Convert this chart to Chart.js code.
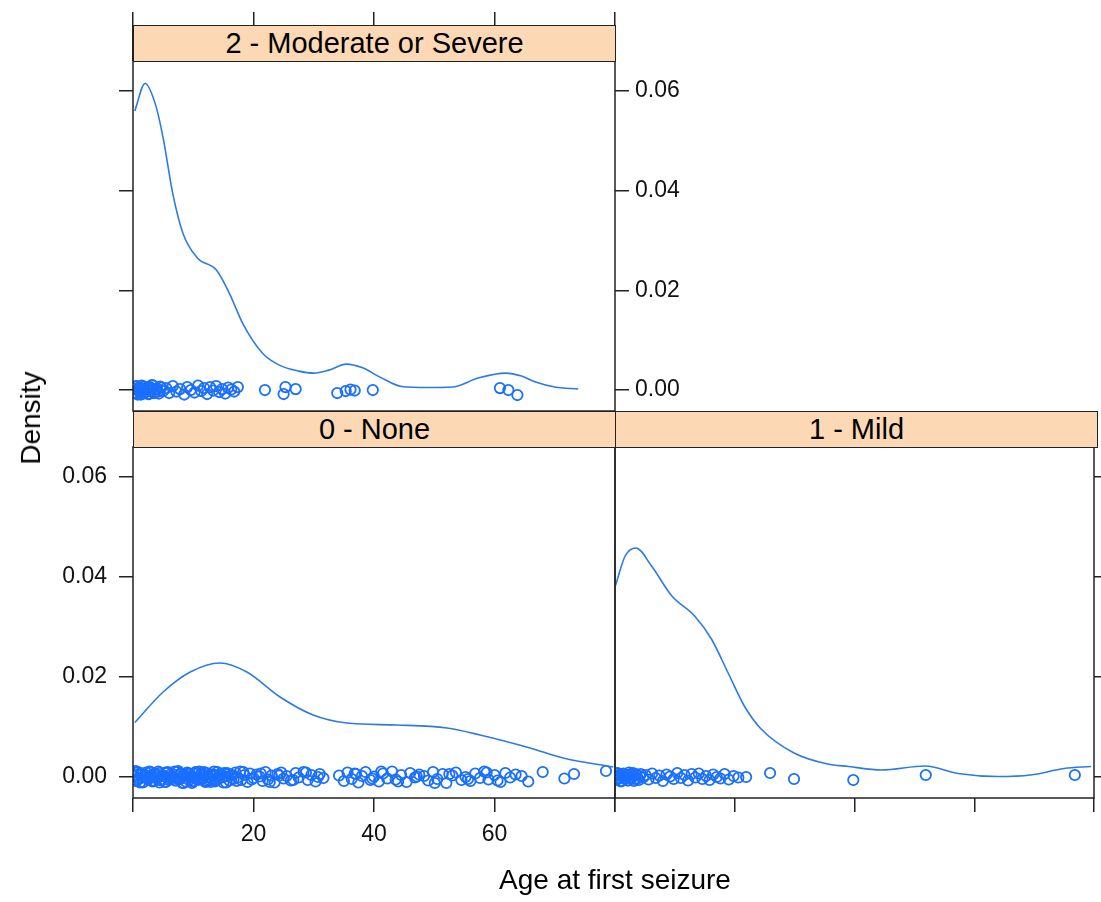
<!DOCTYPE html>
<html>
<head>
<meta charset="utf-8">
<script src="https://cdn.jsdelivr.net/npm/chart.js@4.4.1/dist/chart.umd.min.js"></script>
<style>
  html, body { margin: 0; padding: 0; background: #fff; }
  #page { position: relative; width: 1101px; height: 902px; overflow: hidden;
          font-family: "Liberation Sans", Arial, Helvetica, sans-serif; color: #000; }
  #page canvas { position: absolute; left: 0; top: 0; }
  .strip { position: absolute; box-sizing: border-box; height: 37px; background: #fdd8b5;
           border: 1.5px solid #222; text-align: center; font-size: 29px; line-height: 34px; z-index: 5; }
  .axis-title { position: absolute; font-size: 28px; white-space: nowrap; z-index: 5; }
  #ylab { left: 31px; top: 418px; transform: translate(-50%, -50%) rotate(-90deg); }
  #xlab { left: 615px; top: 880px; transform: translate(-50%, -50%); }
</style>
</head>
<body>
<div id="page">
  <canvas id="cSevere" width="1101" height="902"></canvas>
  <canvas id="cNone" width="1101" height="902"></canvas>
  <canvas id="cMild" width="1101" height="902"></canvas>
  <div class="strip" style="left:133px; top:25px; width:483px;">2 - Moderate or Severe</div>
  <div class="strip" style="left:133px; top:411px; width:483px;">0 - None</div>
  <div class="strip" style="left:615px; top:411px; width:483px;">1 - Mild</div>
  <div class="axis-title" id="ylab">Density</div>
  <div class="axis-title" id="xlab">Age at first seizure</div>
</div>
<script>
// axis ticks
const ageTicks = [0, 20, 40, 60, 80];
const ageTickLabels = ['', '20', '40', '60', ''];
const densityTicks = [0, 0.02, 0.04, 0.06];
const densityTickLabels = ['0.00', '0.02', '0.04', '0.06'];

// 2 - Moderate or Severe: density curve + rug
const severeCurveAge = [0.3, 2.0, 3.7, 5.0, 6.6, 8.3, 10.6, 13.9, 16.0, 18.2, 21.5, 24.3, 27.5, 30.0, 32.5, 35.4, 38.0, 41.0, 44.6, 49.0, 53.0, 57.3, 61.8, 64.5, 66.8, 70.0, 73.9];
const severeCurveDensity = [0.0560, 0.0615, 0.0574, 0.0506, 0.0394, 0.0314, 0.0266, 0.0240, 0.0194, 0.0134, 0.0074, 0.0050, 0.0038, 0.0034, 0.0040, 0.0052, 0.0045, 0.0026, 0.0007, 0.0005, 0.0006, 0.0024, 0.0034, 0.0028, 0.0016, 0.0006, 0.0002];
const severeAge = [0.2, 0.4, 0.6, 0.9, 1.1, 1.3, 1.6, 1.8, 2, 2.3, 2.5, 2.8, 3, 3.3, 3.6, 4, 4.3, 4.7, 5,
  5.5, 6, 6.6, 7.2, 7.8, 8.5, 9, 9.6, 10.2, 10.8, 11.3, 11.8, 12.3, 12.8, 13.3, 13.8, 14.3, 14.8, 15.3, 15.8,
  16.3, 16.8, 17.4, 21.9, 25, 25.3, 27, 33.9, 35.3, 36.1, 36.8, 39.8, 60.9, 62.3, 63.8,
  0.3, 0.5, 0.75, 1.0, 1.2, 1.45, 1.7, 1.9, 2.15, 2.4, 2.65, 2.9, 3.15, 3.45, 3.8, 4.15, 4.5];
const severeJitter = [0.0003, -0.0006, 0.0008, -0.0002, 0.0005, -0.0009, 0.0001, 0.0007, -0.0004, 0.0002,
  -0.0008, 0.0006, -0.0001, 0.0009, -0.0005, 0.0003, -0.0007, 0.0005, -0.0002, 0.0004,
  -0.0006, 0.0008, -0.0003, 0.0002, -0.0009, 0.0006, 0.0000, -0.0005, 0.0009, -0.0002,
  0.0004, -0.0008, 0.0006, -0.0001, 0.0008, -0.0004, 0.0002, -0.0007, 0.0005, 0.0001,
  -0.0003, 0.0006, 0.0000, -0.0008, 0.0006, 0.0002, -0.0006, -0.0002, 0.0001, -0.0001,
  0.0000, 0.0004, 0.0000, -0.0010,
  -0.0005, 0.0007, -0.0009, 0.0004, -0.0002, 0.0009, -0.0007, 0.0002, -0.0004, 0.0006,
  -0.0008, 0.0003, 0.0010, -0.0006, 0.0001, -0.0003, 0.0007];

// 0 - None
const noneCurveAge = [0.3, 5.0, 9.5, 14.4, 18.9, 24.4, 29.9, 35.5, 43.8, 52.1, 57.6, 65.9, 71.4, 79.7];
const noneCurveDensity = [0.0109, 0.0170, 0.0210, 0.0228, 0.0210, 0.0160, 0.0124, 0.0108, 0.0104, 0.0098, 0.0084, 0.0058, 0.0038, 0.0020];
const noneAge = [0.2, 0.5, 0.8, 1, 1.3, 1.6, 2, 2.2, 2.5, 3, 3.3, 3.6, 4, 4.2, 4.5, 5, 5.3, 5.6, 6, 6.2,
  6.5, 7, 7.3, 7.7, 8, 8.2, 8.5, 9, 9.3, 9.6, 10, 10.2, 10.5, 11, 11.3, 11.6, 12, 12.2, 12.5, 13,
  13.3, 13.6, 14, 14.2, 14.5, 15, 15.3, 15.6, 16, 16.3, 16.7, 17, 17.4, 17.8, 18, 18.5, 19, 19.4, 20, 20.5,
  21, 21.5, 22, 22.4, 23, 23.5, 24, 24.6, 25, 25.5, 26.2, 27, 27.5, 28.3, 29, 29.6, 30.3, 31, 31.6,
  34.2, 35, 35.6, 36.3, 37, 37.4, 38, 38.6, 39.4, 40, 40.8, 41.5, 42.2, 43, 43.6, 44.5, 45.4, 46, 46.8, 47.5,
  48.3, 49, 49.8, 50.5, 51.4, 52, 53, 53.6, 54.5, 55.2, 56, 56.8, 57.6, 58.3, 59, 60, 61, 61.8, 62.6, 63.5,
  64.5, 65.6, 68, 71.6, 73.2, 78.5,
  0.35, 0.65, 1.15, 1.45, 1.8, 2.35, 2.75, 3.15, 3.45, 3.8, 4.35, 4.75, 5.15, 5.45, 5.8, 6.35, 6.75, 7.15, 7.5, 7.85,
  8.35, 8.75, 9.15, 9.45, 9.8, 10.35, 10.75, 11.15, 11.45, 11.8, 12.35, 12.75, 13.15, 13.45, 13.8, 14.35, 14.75, 15.15, 15.45, 15.8,
  16.5, 17.2, 18.3, 19.7, 21.2, 22.7, 24.3, 26.6, 28.7, 30.7, 36.8, 39.7, 41.2, 44, 47.1, 50.1, 52.5, 55.6, 58.7, 60.5,
  0.1, 0.45, 0.9, 1.25, 1.7, 2.1, 2.6, 2.9, 3.55, 3.95, 4.4, 4.9, 5.4, 5.9, 6.4, 6.9, 7.4, 7.9, 8.4, 8.9,
  9.4, 9.9, 10.4, 10.9, 11.4, 11.9, 12.4, 12.9, 13.4, 13.9, 14.4, 14.9, 15.4, 16.1, 16.9, 17.6, 18.7, 20.2, 21.7, 23.2];
const noneJitter = [0.0004, -0.0008, 0.0010, -0.0002, 0.0006, -0.0011, 0.0001, 0.0009, -0.0005, 0.0003,
  -0.0009, 0.0007, -0.0001, 0.0011, -0.0006, 0.0002, -0.0010, 0.0008, -0.0003, 0.0005,
  0.0000, -0.0007, 0.0010, -0.0004, 0.0006, -0.0012, 0.0003, 0.0009, -0.0006, 0.0001,
  -0.0008, 0.0007, -0.0002, 0.0011, -0.0005, 0.0004, -0.0010, 0.0008, -0.0001, 0.0005,
  0.0002, -0.0009, 0.0010, -0.0003, 0.0006, -0.0011, 0.0001, 0.0008, -0.0007, 0.0003,
  -0.0004, 0.0009, -0.0001, 0.0011, -0.0006, 0.0004, -0.0010, 0.0007, -0.0002, 0.0005,
  0.0001, -0.0008, 0.0010, -0.0005, 0.0003, -0.0011, 0.0006, 0.0009, -0.0003, 0.0002,
  -0.0007, 0.0008, -0.0001, 0.0010, -0.0006, 0.0004, -0.0009, 0.0006, -0.0002,
  0.0003, -0.0008, 0.0009, -0.0004, 0.0006, -0.0011, 0.0002, 0.0010, -0.0006, 0.0001,
  -0.0009, 0.0007, -0.0003, 0.0011, -0.0005, 0.0004, -0.0010, 0.0008, -0.0001, 0.0005,
  0.0002, -0.0007, 0.0010, -0.0004, 0.0006, -0.0012, 0.0003, 0.0009, -0.0006, 0.0000,
  -0.0008, 0.0007, -0.0002, 0.0011, -0.0005, 0.0004,
  -0.0010, 0.0008, -0.0001, 0.0005, 0.0002, -0.0009, 0.0010, -0.0003, 0.0006, 0.0012,
  -0.0006, 0.0009, -0.0011, 0.0004, 0.0001, -0.0003, 0.0011, -0.0008, 0.0006, -0.0001,
  0.0008, -0.0005, 0.0002, -0.0010, 0.0010, -0.0002, 0.0005, -0.0007, 0.0012, -0.0004,
  0.0003, -0.0009, 0.0007, 0.0000, -0.0012, 0.0009, -0.0006, 0.0004, -0.0002, 0.0010,
  -0.0009, 0.0005, -0.0004, 0.0011, -0.0007, 0.0002, -0.0001, 0.0008, -0.0011, 0.0006,
  0.0004, -0.0008, 0.0010, -0.0005, 0.0007, -0.0010, 0.0003, -0.0006, 0.0009, 0.0000,
  0.0007, -0.0003, 0.0011, -0.0009, 0.0001, -0.0012, 0.0006, -0.0004, 0.0009, -0.0007,
  0.0002, 0.0012, -0.0005, 0.0008, -0.0010, 0.0004, -0.0002, 0.0010, -0.0008, 0.0005,
  -0.0011, 0.0003, 0.0009, -0.0006, 0.0000, 0.0011, -0.0004, 0.0007, -0.0012, 0.0002,
  0.0006, -0.0009, 0.0010, -0.0003, 0.0008, -0.0007, 0.0001, -0.0010, 0.0005, -0.0005];

// 1 - Mild
const mildCurveAge = [0.05, 1.7, 3.5, 6.1, 9.5, 13.3, 16.1, 18.9, 21.6, 24.4, 29.9, 35.5, 39.0, 44.5, 51.8, 57.3, 63.9, 69.4, 75.0, 79.5];
const mildCurveDensity = [0.0382, 0.0442, 0.0458, 0.0422, 0.0362, 0.0322, 0.0276, 0.0208, 0.0142, 0.0096, 0.0048, 0.0026, 0.0021, 0.0014, 0.0022, 0.0007, 0.0001, 0.0004, 0.0017, 0.0021];
const mildAge = [0.1, 0.3, 0.5, 0.7, 0.9, 1.1, 1.3, 1.5, 1.8, 2, 2.2, 2.5, 2.7, 3, 3.3, 3.6, 4, 4.3, 4.7, 5.1,
  5.6, 6.2, 6.8, 7.4, 8, 8.6, 9.2, 9.8, 10.4, 11, 11.6, 12.2, 12.8, 13.4, 14, 14.6, 15.2, 15.8, 16.4, 17,
  17.6, 18.3, 19, 19.8, 20.6, 21.9, 25.9, 29.9, 39.8, 51.9, 76.8,
  0.2, 0.4, 0.6, 0.8, 1.0, 1.2, 1.4, 1.65, 1.9, 2.1, 2.35, 2.6, 2.85, 3.15, 3.45, 3.8, 4.15];
const mildJitter = [0.0002, -0.0005, 0.0007, -0.0001, 0.0004, -0.0008, 0.0000, 0.0006, -0.0003, 0.0002,
  -0.0007, 0.0005, -0.0002, 0.0008, -0.0004, 0.0003, -0.0006, 0.0006, -0.0001, 0.0004,
  -0.0005, 0.0007, -0.0002, 0.0003, -0.0008, 0.0005, 0.0001, -0.0004, 0.0008, -0.0002,
  0.0004, -0.0007, 0.0006, -0.0001, 0.0007, -0.0004, 0.0002, -0.0006, 0.0005, 0.0000,
  -0.0003, 0.0006, -0.0005, 0.0002, -0.0001, 0.0000, 0.0008, -0.0004, -0.0006, 0.0004, 0.0004,
  -0.0006, 0.0008, -0.0002, 0.0005, -0.0009, 0.0003, 0.0007, -0.0004, 0.0001, -0.0007,
  0.0009, -0.0001, 0.0004, -0.0008, 0.0006, -0.0003, 0.0002];

const LINE_BLUE = '#2b7be6';
const POINT_BLUE = '#1a6fff';
const INK = '#222';
Chart.defaults.font.family = '"Liberation Sans", Arial, Helvetica, sans-serif';
const tickFont = { size: 23 };

function pairs(xs, ys) {
  return xs.map((x, i) => ({ x: x, y: ys[i] }));
}

function ageAxis(position, opts) {
  return {
    type: 'linear', position: position, min: 0, max: 80,
    display: opts.hidden ? false : true,
    afterBuildTicks: s => { s.ticks = ageTicks.map(v => ({ value: v })); },
    afterFit: s => { s.height = opts.size; },
    grid: { drawOnChartArea: false, drawTicks: true, tickLength: opts.tick || 14, color: INK, lineWidth: 1.5 },
    border: { display: false },
    ticks: { display: !!opts.labels, callback: (v, i) => ageTickLabels[i], font: tickFont, color: '#111',
             padding: 9, maxRotation: 0, autoSkip: false }
  };
}

function densityAxis(position, opts) {
  return {
    type: 'linear', position: position, min: -0.0042, max: 0.066,
    afterBuildTicks: s => { s.ticks = densityTicks.map(v => ({ value: v })); },
    afterFit: s => { s.width = opts.size; },
    grid: { drawOnChartArea: false, drawTicks: true, tickLength: 14, color: INK, lineWidth: 1.5 },
    border: { display: false },
    ticks: { display: !!opts.labels, callback: (v, i) => densityTickLabels[i], font: tickFont, color: '#111',
             padding: opts.pad || 10, autoSkip: false }
  };
}

const panelBox = {
  id: 'panelBox',
  afterDraw(chart) {
    const a = chart.chartArea, ctx = chart.ctx;
    ctx.save();
    ctx.strokeStyle = INK;
    ctx.lineWidth = 1.5;
    ctx.strokeRect(a.left, a.top, a.right - a.left, a.bottom - a.top);
    ctx.restore();
  }
};

function makePanel(id, curveX, curveY, ageX, jitterY, scales, padding) {
  return new Chart(document.getElementById(id), {
    type: 'scatter',
    data: {
      datasets: [
        {
          type: 'line', data: pairs(curveX, curveY), borderColor: LINE_BLUE, borderWidth: 1.6,
          pointRadius: 0, fill: false, cubicInterpolationMode: 'monotone', xAxisID: 'x', yAxisID: 'y'
        },
        {
          type: 'scatter', data: pairs(ageX, jitterY), borderColor: POINT_BLUE, backgroundColor: 'rgba(0,0,0,0)',
          pointRadius: 5.2, borderWidth: 1.8, pointStyle: 'circle', xAxisID: 'x', yAxisID: 'y'
        }
      ]
    },
    options: {
      responsive: false, animation: false, devicePixelRatio: 1, events: [],
      layout: { padding: padding },
      plugins: { legend: { display: false }, tooltip: { enabled: false } },
      scales: scales
    },
    plugins: [panelBox]
  });
}

// chart areas: left column 133..615, right column 615..1097; top row 61..411, bottom row 447..798
makePanel('cSevere', severeCurveAge, severeCurveDensity, severeAge, severeJitter, {
  x: ageAxis('bottom', { hidden: true, size: 0 }),
  xTop: ageAxis('top', { size: 49, tick: 49 }),
  y: densityAxis('left', { size: 15 }),
  yRight: densityAxis('right', { size: 90, labels: true, pad: 6 })
}, { left: 118, right: 396, top: 12, bottom: 491 });

makePanel('cNone', noneCurveAge, noneCurveDensity, noneAge, noneJitter, {
  x: ageAxis('bottom', { size: 60, labels: true }),
  y: densityAxis('left', { size: 133, labels: true, pad: 12 })
}, { left: 0, right: 486, top: 447, bottom: 44 });

makePanel('cMild', mildCurveAge, mildCurveDensity, mildAge, mildJitter, {
  x: ageAxis('bottom', { size: 14 }),
  y: densityAxis('right', { size: 4 })
}, { left: 615, right: 0, top: 447, bottom: 90 });
</script>
</body>
</html>
